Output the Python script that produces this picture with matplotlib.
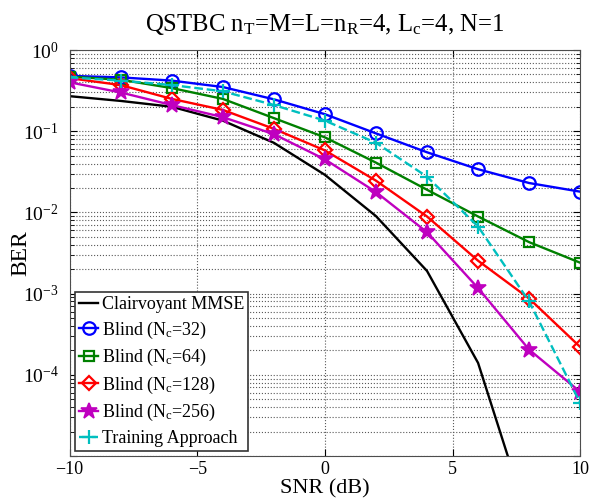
import matplotlib
matplotlib.use("Agg")
import matplotlib.pyplot as plt
from matplotlib.ticker import LogLocator, NullFormatter

plt.rcParams['font.family'] = ['Liberation Serif', 'DejaVu Serif']
plt.rcParams['mathtext.fontset'] = 'custom'
plt.rcParams['mathtext.rm'] = 'Liberation Serif'
plt.rcParams['mathtext.it'] = 'Liberation Serif:italic'

snr = [-10, -8, -6, -4, -2, 0, 2, 4, 6, 8, 10]
clairvoyant = [0.27, 0.236, 0.20, 0.135, 0.072, 0.029, 0.009, 0.0019, 0.00014, 1.5e-6, 1e-8]
blind_32 = [0.48, 0.46, 0.42, 0.35, 0.247, 0.162, 0.094, 0.055, 0.034, 0.023, 0.018]
blind_64 = [0.47, 0.43, 0.34, 0.25, 0.145, 0.084, 0.041, 0.019, 0.0089, 0.0043, 0.0024]
blind_128 = [0.45, 0.37, 0.25, 0.183, 0.107, 0.058, 0.0246, 0.0089, 0.00254, 0.00087, 0.00022]
blind_256 = [0.40, 0.30, 0.21, 0.149, 0.092, 0.045, 0.0178, 0.0057, 0.00117, 0.000204, 0.0000616]
training = [0.46, 0.42, 0.37, 0.31, 0.21, 0.135, 0.072, 0.0275, 0.0067, 0.0008, 0.000045]

labels = ['Clairvoyant MMSE',
          r'Blind (N$_\mathregular{c}$=32)',
          r'Blind (N$_\mathregular{c}$=64)',
          r'Blind (N$_\mathregular{c}$=128)',
          r'Blind (N$_\mathregular{c}$=256)',
          'Training Approach']

fig = plt.figure(figsize=(6, 5), dpi=100)
ax = fig.add_axes([0.116, 0.088, 0.851, 0.812])

lw = 1.7
ax.semilogy(snr, clairvoyant, '-', color='k', lw=lw, label=labels[0])
ax.semilogy(snr, blind_32, '-o', color=(0, 0, 1), lw=lw, ms=9, mfc='none', mew=1.6, label=labels[1])
ax.semilogy(snr, blind_64, '-s', color=(0, 0.5, 0), lw=lw, ms=7.5, mfc='none', mew=1.6, label=labels[2])
ax.semilogy(snr, blind_128, '-D', color=(1, 0, 0), lw=lw, ms=7.5, mfc='none', mew=1.6, label=labels[3])
ax.semilogy(snr, blind_256, '-*', color=(0.75, 0, 0.75), lw=lw, ms=12, mew=1.2, label=labels[4])
ax.semilogy(snr, training, '--+', color=(0, 0.75, 0.75), lw=lw, ms=10, mew=1.6, label=labels[5])

ax.set_xlim(-10, 10)
ax.set_ylim(1e-5, 1)
ax.set_xticks([-10, -5, 0, 5, 10])
ax.set_xticklabels(['\u221210', '\u22125', '0', '5', '10'])
ax.yaxis.set_minor_locator(LogLocator(base=10, subs=range(2, 10), numticks=20))
ax.yaxis.set_minor_formatter(NullFormatter())
ax.set_yticks([1e-5, 1e-4, 1e-3, 1e-2, 1e-1, 1])
ax.set_yticklabels(['', r'$10^{-4}$', r'$10^{-3}$', r'$10^{-2}$', r'$10^{-1}$', r'$10^{0}$'])

ax.grid(True, which='major', linestyle=':', color='0.35', lw=0.8)
ax.grid(True, which='minor', axis='y', linestyle=':', color='0.35', lw=0.8)
ax.tick_params(which='both', direction='in', top=True, right=True, labelsize=13)
ax.tick_params(axis='y', which='major', labelsize=14, pad=8)
ax.tick_params(which='major', length=5)
ax.tick_params(which='minor', length=3)
for s in ax.spines.values():
    s.set_color('0.3')

ax.set_xlabel('SNR (dB)', fontsize=16, labelpad=1)
ax.set_ylabel('BER', fontsize=17)
ax.yaxis.set_label_coords(-0.074, 0.5)
ax.set_title(r'QSTBC n$_\mathregular{T}$=M=L=n$_\mathregular{R}$=4, L$_\mathregular{c}$=4, N=1',
             fontsize=17.8, pad=14)

leg = ax.legend(loc='lower left', fontsize=13, handlelength=1.1, handletextpad=0.2,
                borderpad=0.2, labelspacing=0.36, borderaxespad=0.3, fancybox=False,
                framealpha=1, edgecolor='0.2')
leg.get_frame().set_linewidth(1.2)

fig.savefig('out.png', dpi=100)
